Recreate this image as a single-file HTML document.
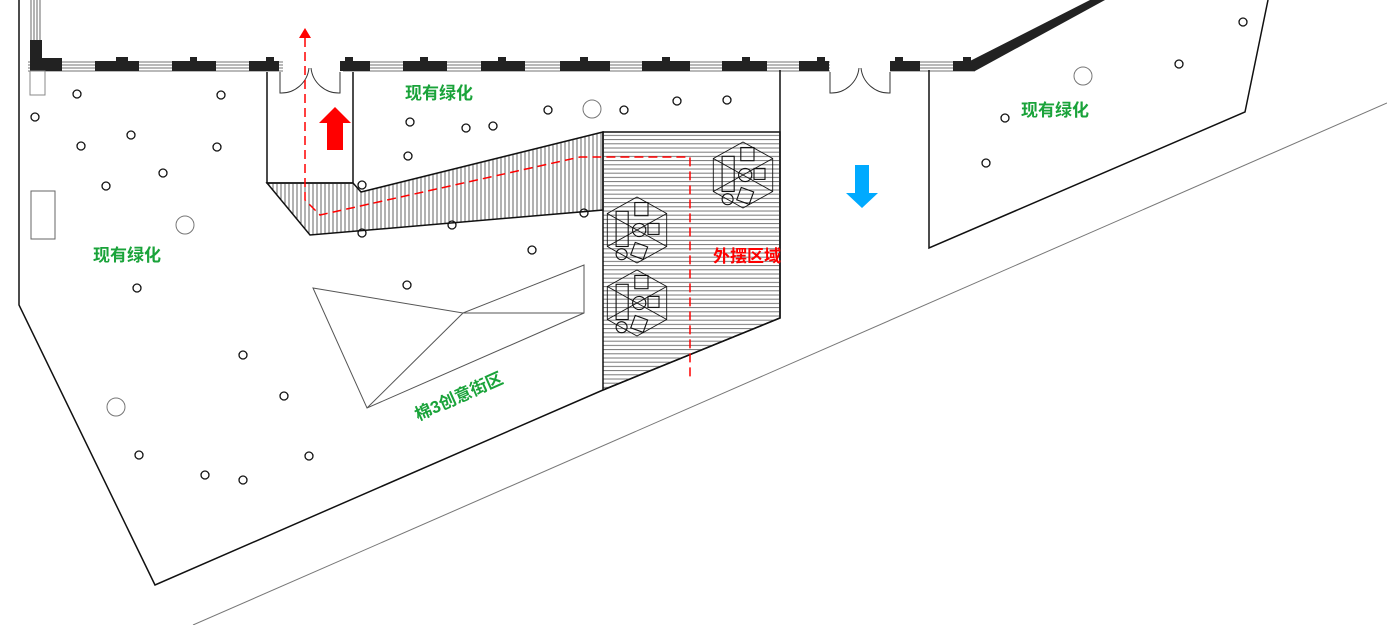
<!DOCTYPE html>
<html><head><meta charset="utf-8"><style>
html,body{margin:0;padding:0;background:#fff;}
svg{display:block;}
text{font-family:"Liberation Sans","Noto Sans CJK SC",sans-serif;font-weight:bold;font-size:17px;}
</style></head><body>
<svg width="1387" height="625" viewBox="0 0 1387 625" xmlns="http://www.w3.org/2000/svg">
<defs>
<pattern id="hs" width="8" height="4.2" patternUnits="userSpaceOnUse"><line x1="0" y1="1" x2="8" y2="1" stroke="#777" stroke-width="1"/></pattern>
<pattern id="vs" width="4" height="8" patternUnits="userSpaceOnUse"><line x1="1" y1="0" x2="1" y2="8" stroke="#666" stroke-width="1"/></pattern>
<g id="hex">
<polygon points="0,-30 27,-15 27,15 0,30 -27,15 -27,-15" fill="none" stroke="#111" stroke-width="0.8"/>
<line x1="-27" y1="15" x2="27" y2="-15" stroke="#111" stroke-width="0.8"/>
<line x1="-27" y1="-15" x2="0" y2="0" stroke="#111" stroke-width="0.8"/>
<line x1="0" y1="0" x2="27" y2="15" stroke="#111" stroke-width="0.8"/>
<rect x="-19" y="-17" width="11" height="32" fill="none" stroke="#111"/>
<rect x="-2" y="-25" width="12" height="12" fill="none" stroke="#111"/>
<circle cx="2" cy="0" r="6" fill="none" stroke="#111"/>
<rect x="10" y="-6" width="10" height="10" fill="none" stroke="#111"/>
<circle cx="-14" cy="22" r="5" fill="none" stroke="#111"/>
<rect x="-4" y="13" width="12" height="12" fill="none" stroke="#111" transform="rotate(20 2 19)"/>
</g>
</defs>

<g stroke="#444" stroke-width="0.8">
<line x1="28" y1="62" x2="975" y2="62"/><line x1="28" y1="65" x2="975" y2="65"/>
<line x1="28" y1="68" x2="975" y2="68"/><line x1="28" y1="71" x2="975" y2="71"/>
<line x1="31" y1="0" x2="31" y2="40"/><line x1="34" y1="0" x2="34" y2="40"/><line x1="37" y1="0" x2="37" y2="40"/><line x1="40" y1="0" x2="40" y2="40"/>
</g>
<rect x="283" y="56" width="60" height="20" fill="#fff"/>
<rect x="830" y="56" width="60" height="20" fill="#fff"/>
<g fill="#222">
<rect x="30" y="40" width="12" height="31"/><rect x="30" y="58" width="32" height="13"/>
<rect x="95" y="61" width="44" height="10"/><rect x="116" y="57" width="12" height="5"/>
<rect x="172" y="61" width="44" height="10"/><rect x="190" y="57" width="7" height="5"/>
<rect x="249" y="61" width="30" height="10"/><rect x="266" y="57" width="8" height="5"/>
<rect x="340" y="61" width="30" height="10"/><rect x="345" y="57" width="8" height="5"/>
<rect x="403" y="61" width="44" height="10"/><rect x="420" y="57" width="8" height="5"/>
<rect x="481" y="61" width="44" height="10"/><rect x="498" y="57" width="8" height="5"/>
<rect x="560" y="61" width="50" height="10"/><rect x="580" y="57" width="8" height="5"/>
<rect x="642" y="61" width="48" height="10"/><rect x="662" y="57" width="8" height="5"/>
<rect x="722" y="61" width="45" height="10"/><rect x="742" y="57" width="8" height="5"/>
<rect x="799" y="61" width="30" height="10"/><rect x="817" y="57" width="8" height="5"/>
<rect x="890" y="61" width="30" height="10"/><rect x="895" y="57" width="8" height="5"/>
<rect x="953" y="61" width="22" height="10"/><rect x="963" y="57" width="8" height="5"/>
</g>
<polygon points="968,62 1090,0 1105,0 975,71" fill="#222"/>
<rect x="30" y="71" width="15" height="24" fill="none" stroke="#888"/>

<polyline points="19,0 19,305 155,585 603,390 780,318 780,70" fill="none" stroke="#111" stroke-width="1.5"/>
<line x1="193" y1="625" x2="1387" y2="103" stroke="#777" stroke-width="1"/>
<polyline points="929,70 929,248 1245,112 1268,0" fill="none" stroke="#111" stroke-width="1.5"/>

<polyline points="267,72 267,183 353,183 353,72" fill="none" stroke="#111" stroke-width="1.5"/>
<g fill="none" stroke="#333" stroke-width="1">
<path d="M280,72 L280,93 A28,28 0 0 0 309,68"/>
<path d="M340,72 L340,93 A28,28 0 0 1 311,68"/>
<path d="M830,72 L830,93 A28,28 0 0 0 859,68"/>
<path d="M890,72 L890,93 A28,28 0 0 1 861,68"/>
</g>

<polygon points="267,183 353,183 361,192 603,132 603,210 310,235" fill="url(#vs)" stroke="#111" stroke-width="1.5"/>
<polygon points="603,132 780,132 780,318 603,390" fill="url(#hs)" stroke="#111" stroke-width="1.5"/>
<use href="#hex" transform="translate(637,230) scale(1.1)"/>
<use href="#hex" transform="translate(637,303) scale(1.1)"/>
<use href="#hex" transform="translate(743,175) scale(1.1)"/>

<g fill="none" stroke="#555" stroke-width="1">
<polygon points="313,288 463,313 584,265 584,313 367,408"/>
<line x1="463" y1="313" x2="367" y2="408"/><line x1="463" y1="313" x2="584" y2="313"/>
</g>

<rect x="31" y="191" width="24" height="48" fill="none" stroke="#666"/>

<g fill="none" stroke="#111" stroke-width="1.3">
<circle cx="77" cy="94" r="4"/><circle cx="221" cy="95" r="4"/><circle cx="35" cy="117" r="4"/><circle cx="131" cy="135" r="4"/><circle cx="81" cy="146" r="4"/><circle cx="217" cy="147" r="4"/><circle cx="163" cy="173" r="4"/><circle cx="106" cy="186" r="4"/><circle cx="137" cy="288" r="4"/><circle cx="243" cy="355" r="4"/><circle cx="284" cy="396" r="4"/><circle cx="139" cy="455" r="4"/><circle cx="205" cy="475" r="4"/><circle cx="243" cy="480" r="4"/><circle cx="309" cy="456" r="4"/><circle cx="362" cy="185" r="4"/><circle cx="362" cy="233" r="4"/><circle cx="410" cy="122" r="4"/><circle cx="408" cy="156" r="4"/><circle cx="466" cy="128" r="4"/><circle cx="493" cy="126" r="4"/><circle cx="548" cy="110" r="4"/><circle cx="624" cy="110" r="4"/><circle cx="677" cy="101" r="4"/><circle cx="727" cy="100" r="4"/><circle cx="584" cy="213" r="4"/><circle cx="532" cy="250" r="4"/><circle cx="452" cy="225" r="4"/><circle cx="407" cy="285" r="4"/><circle cx="1005" cy="118" r="4"/><circle cx="986" cy="163" r="4"/><circle cx="1179" cy="64" r="4"/><circle cx="1243" cy="22" r="4"/>
</g>
<g fill="none" stroke="#777" stroke-width="1">
<circle cx="185" cy="225" r="9"/><circle cx="116" cy="407" r="9"/><circle cx="592" cy="109" r="9"/><circle cx="1083" cy="76" r="9"/>
</g>

<polyline points="305,38 305,200 320,215 580,157 690,157 690,378" fill="none" stroke="#f00" stroke-width="1.5" stroke-dasharray="9,5"/>
<polygon points="305,28 299,38 311,38" fill="#f00"/>
<polygon points="335,107 351,123 343,123 343,150 327,150 327,123 319,123" fill="#f00"/>
<polygon points="862,208 878,193 869,193 869,165 855,165 855,193 846,193" fill="#0af"/>

<text x="405" y="99" fill="#1aa33a">现有绿化</text>
<text x="93" y="261" fill="#1aa33a">现有绿化</text>
<text x="1021" y="116" fill="#1aa33a">现有绿化</text>
<text x="713" y="262" fill="#f00">外摆区域</text>
<text x="0" y="0" fill="#1aa33a" transform="translate(418,421) rotate(-24)">棉3创意街区</text>
</svg>
</body></html>
